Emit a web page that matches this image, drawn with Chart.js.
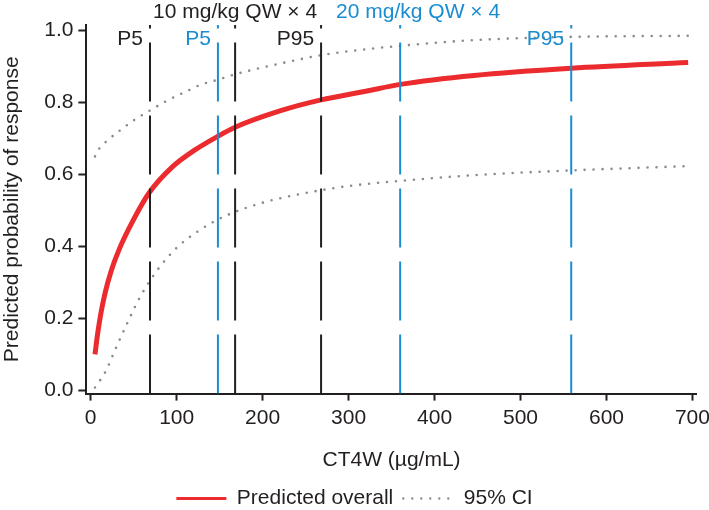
<!DOCTYPE html>
<html>
<head>
<meta charset="utf-8">
<script src="https://cdn.jsdelivr.net/npm/chart.js@4/dist/chart.umd.min.js"></script>
<style>
  body { margin: 0; background: #fff; }
  #wrap { width: 709px; height: 510px; }
</style>
</head>
<body>
<div id="wrap"><canvas id="chart"></canvas></div>
<script>
// predicted overall curve
var fitX = [5, 8, 12, 17, 24, 33, 48, 68, 95, 120, 148, 168, 221, 268, 320, 360, 446, 559, 695];
var fitY = [0.099, 0.155, 0.215, 0.272, 0.332, 0.39, 0.465, 0.548, 0.62, 0.665, 0.705, 0.73, 0.776, 0.806, 0.83, 0.849, 0.874, 0.894, 0.91];

// 95% CI bounds
var ciUpX = [5, 10, 18, 35, 50, 70, 89, 110, 128, 148, 168, 217, 268, 314, 360, 446, 560, 695];
var ciUpY = [0.649, 0.671, 0.69, 0.723, 0.749, 0.778, 0.804, 0.828, 0.848, 0.862, 0.877, 0.905, 0.93, 0.945, 0.956, 0.972, 0.981, 0.984];
var ciLoX = [5, 17, 30, 43, 56, 68, 80, 101, 126, 145, 165, 204, 245, 268, 301, 360, 454, 559, 695];
var ciLoY = [0.007, 0.05, 0.12, 0.188, 0.252, 0.30, 0.341, 0.397, 0.443, 0.47, 0.492, 0.523, 0.545, 0.555, 0.567, 0.581, 0.598, 0.61, 0.622];

// exposure percentiles (P5, median, P95) per dose
var dose10 = [69, 168, 268];
var dose20 = [148, 360, 559];
var dose10Label = "10 mg/kg QW \u00d7 4";
var dose20Label = "20 mg/kg QW \u00d7 4";
var pctLabels = ["P5", "", "P95"];

var xTicks = [0, 100, 200, 300, 400, 500, 600, 700];
var yTicks = [0, 0.2, 0.4, 0.6, 0.8, 1.0];
var xMin = -5, xMax = 705, yMin = -0.01, yMax = 1.014;

var BLACK = "#231f20";
var BLUE = "#1a8dd0";
var RED = "#ec2b2f";
var GREY = "#8a8d90";
var FONT = "Liberation Sans, Arial, Helvetica, sans-serif";

function pts(xs, ys) {
  return xs.map(function(x, i) { return { x: x, y: ys[i] }; });
}

function vline(x, color) {
  return {
    data: [{ x: x, y: yMin }, { x: x, y: yMax }],
    borderColor: color,
    borderWidth: 2,
    borderDash: [59, 14],
    pointRadius: 0,
    fill: false
  };
}

var datasets = [];
dose10.forEach(function(v) { datasets.push(vline(v, BLACK)); });
dose20.forEach(function(v) { datasets.push(vline(v, BLUE)); });
datasets.push({
  label: "95% CI",
  data: pts(ciUpX, ciUpY),
  borderColor: GREY,
  borderWidth: 2.6,
  borderDash: [0, 9],
  borderCapStyle: "round",
  pointRadius: 0,
  cubicInterpolationMode: "monotone"
});
datasets.push({
  label: "95% CI",
  data: pts(ciLoX, ciLoY),
  borderColor: GREY,
  borderWidth: 2.6,
  borderDash: [0, 9],
  borderCapStyle: "round",
  pointRadius: 0,
  cubicInterpolationMode: "monotone"
});
datasets.push({
  label: "Predicted overall",
  data: pts(fitX, fitY),
  borderColor: RED,
  borderWidth: 5,
  pointRadius: 0,
  cubicInterpolationMode: "monotone"
});

// P5 / P95 and dose group labels
var markerLabels = {
  id: "markerLabels",
  afterDatasetsDraw: function(chart) {
    var ctx = chart.ctx, x = chart.scales.x, top = chart.chartArea.top;
    ctx.save();
    ctx.font = "21px " + FONT;
    ctx.textBaseline = "alphabetic";
    ctx.textAlign = "right";
    [[dose10, BLACK], [dose20, BLUE]].forEach(function(g) {
      g[0].forEach(function(v, i) {
        if (!pctLabels[i]) return;
        ctx.fillStyle = g[1];
        ctx.fillText(pctLabels[i], x.getPixelForValue(v) - 7, top + 20);
      });
    });
    ctx.textAlign = "center";
    ctx.fillStyle = BLACK;
    var cx = x.getPixelForValue(dose10[1]);
    ctx.fillText(dose10Label, cx, top - 7);
    var endX = cx + ctx.measureText(dose10Label).width / 2;
    ctx.textAlign = "left";
    ctx.fillStyle = BLUE;
    ctx.fillText(dose20Label, endX + 19, top - 7);
    ctx.restore();
  }
};

Chart.defaults.font.family = FONT;
Chart.defaults.font.size = 21;
Chart.defaults.color = BLACK;

new Chart("chart", {
  type: "line",
  data: { datasets: datasets },
  plugins: [markerLabels],
  options: {
    responsive: true,
    maintainAspectRatio: false,
    animation: false,
    layout: { padding: { top: 25, right: 0, left: 0, bottom: -9 } },
    plugins: {
      tooltip: { enabled: false },
      legend: {
        position: "bottom",
        labels: {
          usePointStyle: true,
          pointStyle: "line",
          pointStyleWidth: 50,
          padding: 10,
          color: BLACK,
          font: { size: 21 },
          generateLabels: function(chart) {
            var ds = chart.data.datasets;
            var fit = ds[ds.length - 1], ci = ds[ds.length - 2];
            return [
              { text: fit.label, strokeStyle: fit.borderColor, lineWidth: 3, pointStyle: "line", datasetIndex: ds.length - 1, fontColor: BLACK },
              { text: ci.label, strokeStyle: ci.borderColor, lineWidth: 2.4, lineDash: ci.borderDash, lineCap: "round", pointStyle: "line", datasetIndex: ds.length - 2, fontColor: BLACK }
            ];
          }
        }
      }
    },
    scales: {
      x: {
        type: "linear",
        min: xMin,
        max: xMax,
        afterBuildTicks: function(axis) {
          axis.ticks = xTicks.map(function(v) { return { value: v }; });
        },
        // let the "700" label run closer to the canvas edge
        afterFit: function(axis) {
          axis.paddingRight = Math.max(0, axis.paddingRight - 6);
        },
        ticks: { padding: 5, maxRotation: 0, color: BLACK, font: { size: 21 } },
        grid: { display: true, drawOnChartArea: false, drawTicks: true, tickLength: 7, tickWidth: 2, tickColor: BLACK },
        border: { display: true, color: BLACK, width: 2 },
        title: { display: true, text: "CT4W (\u00b5g/mL)", color: BLACK, font: { size: 21 }, padding: { top: 12, bottom: 5 } }
      },
      y: {
        type: "linear",
        min: yMin,
        max: yMax,
        afterBuildTicks: function(axis) {
          axis.ticks = yTicks.map(function(v) { return { value: v }; });
        },
        ticks: { padding: 5, color: BLACK, font: { size: 21 }, callback: function(v) { return v.toFixed(1); } },
        grid: { display: true, drawOnChartArea: false, drawTicks: true, tickLength: 8, tickWidth: 2, tickColor: BLACK },
        border: { display: true, color: BLACK, width: 2 },
        title: { display: true, text: "Predicted probability of response", color: BLACK, font: { size: 21 }, padding: { top: 0, bottom: 14 } }
      }
    }
  }
});
</script>
</body>
</html>
